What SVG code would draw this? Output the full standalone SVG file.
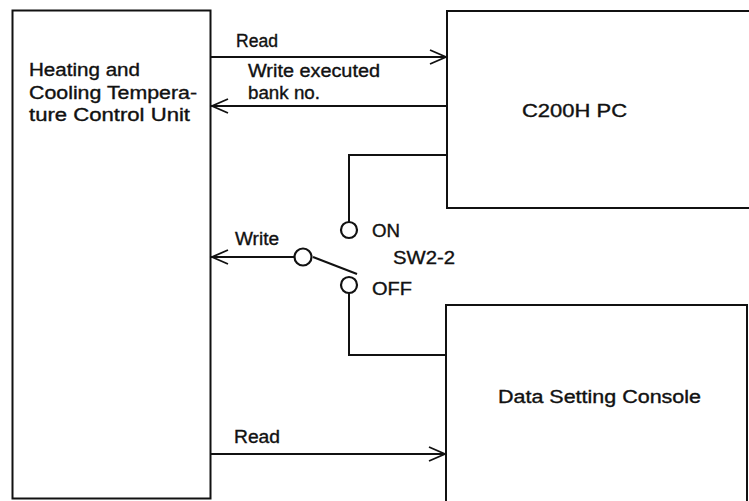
<svg xmlns="http://www.w3.org/2000/svg" width="749" height="501" viewBox="0 0 749 501">
<style>
.box{fill:none;stroke:#111;stroke-width:2}
.ln{fill:none;stroke:#111;stroke-width:2}
.ah{fill:none;stroke:#111;stroke-width:1.8}
.t{font-family:"Liberation Sans",Arial,sans-serif;font-size:17.5px;fill:#111;stroke:#111;stroke-width:0.35}
.c{fill:#fff;stroke:#111;stroke-width:2.2}
</style>
<rect width="749" height="501" fill="#fff"/>
<g id="node-htcu">
<rect class="box" x="12.5" y="10.5" width="198" height="488"/>
<text class="t" x="29" y="76" textLength="111" lengthAdjust="spacingAndGlyphs">Heating and</text>
<text class="t" x="29" y="98.5" textLength="168" lengthAdjust="spacingAndGlyphs">Cooling Tempera-</text>
<text class="t" x="29" y="121" textLength="161" lengthAdjust="spacingAndGlyphs">ture Control Unit</text>
</g>
<g id="node-pc">
<path class="box" d="M755,11 H447 V208 H755"/>
<text class="t" x="522" y="117" textLength="105" lengthAdjust="spacingAndGlyphs">C200H PC</text>
</g>
<g id="node-dsc">
<path class="box" d="M446,505 V305 H747 V505"/>
<text class="t" x="498" y="403" textLength="203" lengthAdjust="spacingAndGlyphs">Data Setting Console</text>
</g>
<g id="node-switch">
<path class="ln" d="M313,257 L357,274" stroke-width="3"/>
<circle class="c" cx="349" cy="230" r="8"/>
<circle class="c" cx="349" cy="285" r="8"/>
<circle class="c" cx="303" cy="257" r="8.5"/>
<text class="t" x="372" y="237" textLength="28" lengthAdjust="spacingAndGlyphs">ON</text>
<text class="t" x="393" y="264" textLength="62" lengthAdjust="spacingAndGlyphs">SW2-2</text>
<text class="t" x="372" y="295" textLength="40" lengthAdjust="spacingAndGlyphs">OFF</text>
</g>
<g id="connectors">
<line class="ln" x1="211" y1="57" x2="446" y2="57"/>
<path class="ah" d="M430,50 L446,57 L430,64"/>
<text class="t" x="236" y="47" textLength="42" lengthAdjust="spacingAndGlyphs">Read</text>
<line class="ln" x1="447" y1="106" x2="211" y2="106"/>
<path class="ah" d="M228,99 L212,106 L228,113"/>
<text class="t" x="248" y="77" textLength="132" lengthAdjust="spacingAndGlyphs">Write executed</text>
<text class="t" x="248" y="99" textLength="72" lengthAdjust="spacingAndGlyphs">bank no.</text>
<path class="ln" d="M447,155 H349 V222"/>
<path class="ln" d="M349,293 V355 H446"/>
<line class="ln" x1="294.5" y1="257" x2="211" y2="257"/>
<path class="ah" d="M228,250 L212,257 L228,264"/>
<text class="t" x="235" y="245" textLength="44" lengthAdjust="spacingAndGlyphs">Write</text>
<line class="ln" x1="211" y1="454" x2="445" y2="454"/>
<path class="ah" d="M429,447 L445,454 L429,461"/>
<text class="t" x="234" y="443" textLength="46" lengthAdjust="spacingAndGlyphs">Read</text>
</g>
</svg>
